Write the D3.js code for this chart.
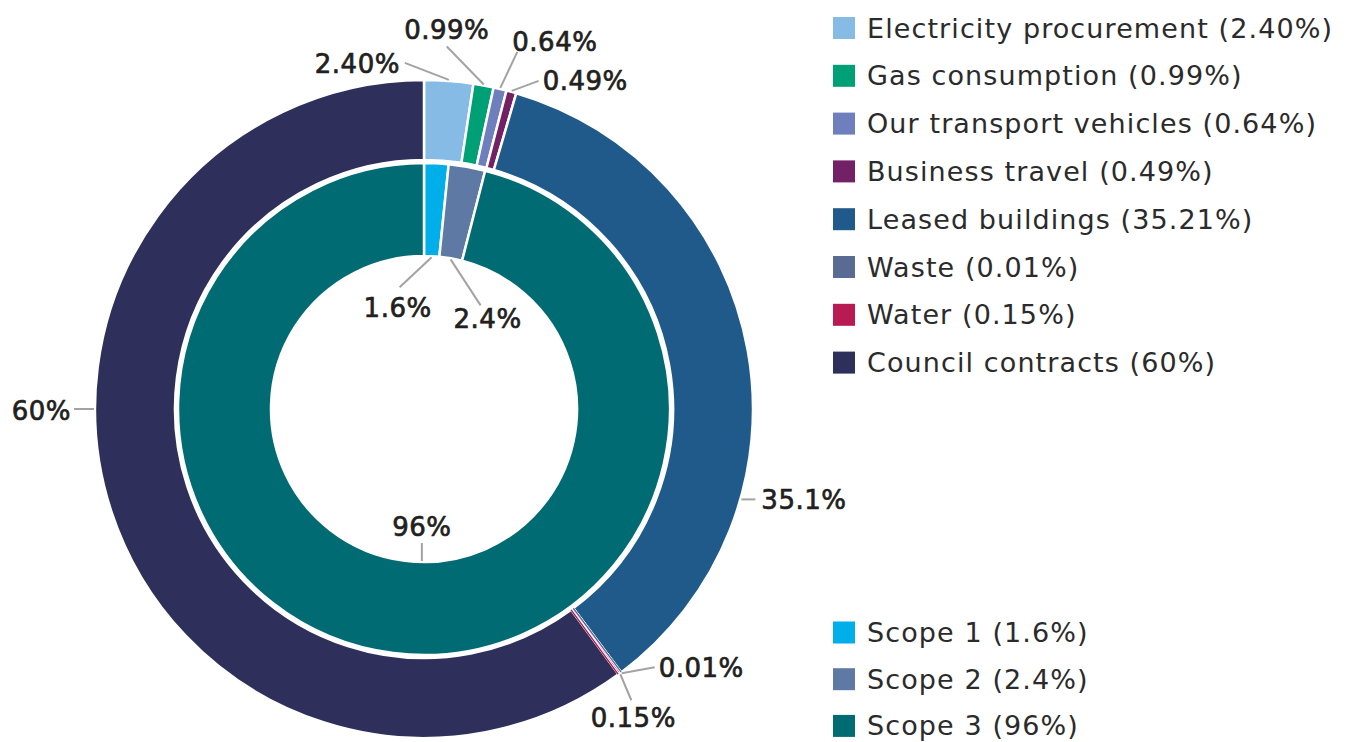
<!DOCTYPE html>
<html>
<head>
<meta charset="utf-8">
<script src="https://cdn.jsdelivr.net/npm/d3@7"></script>
<style>
  html, body { margin: 0; padding: 0; background: #fff; }
  #chart { width: 1352px; height: 742px; }
  text { font-family: "DejaVu Sans", sans-serif; }
</style>
</head>
<body>
<div id="chart"></div>
<script>
// outer ring: emission sources
const sources = ["Electricity procurement", "Gas consumption", "Our transport vehicles", "Business travel",
                 "Leased buildings", "Waste", "Water", "Council contracts"];
const sourceValues = [2.40, 0.99, 0.64, 0.49, 35.21, 0.01, 0.15, 60];
const sourceLegend = ["2.40%", "0.99%", "0.64%", "0.49%", "35.21%", "0.01%", "0.15%", "60%"];
const sourceLabels = ["2.40%", "0.99%", "0.64%", "0.49%", "35.1%", "0.01%", "0.15%", "60%"];
const sourceColors = ["#86bbe6", "#00a076", "#6f7ebd", "#722166", "#1f5a8a", "#5a6b93", "#b81a53", "#2f2f5b"];

// inner ring: scopes
const scopes = ["Scope 1", "Scope 2", "Scope 3"];
const scopeValues = [1.6, 2.4, 96];
const scopeLabels = ["1.6%", "2.4%", "96%"];
const scopeColors = ["#00aeea", "#5e7aa4", "#006b72"];

// leader lines: [angle override (deg) or null, line dx, line dy, text anchor, text dx, text dy]
const outerLeaders = [
  [null, -44, -17, "end", -5, 10], [null, -37, -38, "middle", 0, -7], [null, 17, -36, "start", -5, -1],
  [null, 27, -10, "start", 4, 9], [105.9, 14, 0, "start", 6, 10], [null, 33, -6, "start", 4, 10],
  [null, 11, 26, "middle", 2, 27], [270, -20, 0, "end", -3, 11]
];
const innerLeaders = [[null, -32, 30, "middle", -2, 30], [null, 30, 46, "middle", 7, 23], [180.8, 0, -18, "middle", 0, -7]];

const width = 1352, height = 742;
const cx = 424, cy = 409;
const rOuter = 329, rOuterIn = 249, rInner = 246, rInnerIn = 153;

const svg = d3.select("#chart").append("svg")
  .attr("width", width).attr("height", height);

const pie = d3.pie().sort(null).value(d => d);
const g = svg.append("g").attr("transform", `translate(${cx},${cy})`);

const outerArc = d3.arc().innerRadius(rOuterIn).outerRadius(rOuter);
const innerArc = d3.arc().innerRadius(rInnerIn).outerRadius(rInner);

const outerData = pie(sourceValues);
const innerData = pie(scopeValues);

g.selectAll(".outer").data(outerData).enter().append("path")
  .attr("d", outerArc)
  .attr("fill", (d, i) => sourceColors[i])
  .attr("stroke", "#fff").attr("stroke-width", 2.5);

// very thin slices would vanish under the white separators: draw them as hairlines
const tiny = outerData.map((d, i) => ({d, i})).filter(o => o.d.value < 0.2);
if (tiny.length) {
  const rMid = (rOuter + rOuterIn) / 2;
  const centre = (tiny[0].d.startAngle + tiny[tiny.length - 1].d.endAngle) / 2;
  const gap = 3.2 / rMid;
  tiny.forEach((o, k) => {
    const a = centre + (k - (tiny.length - 1) / 2) * gap;
    g.append("line")
      .attr("x1", rOuterIn * Math.sin(a)).attr("y1", -rOuterIn * Math.cos(a))
      .attr("x2", (rOuter - 0.5) * Math.sin(a)).attr("y2", -(rOuter - 0.5) * Math.cos(a))
      .attr("stroke", sourceColors[o.i]).attr("stroke-width", 1.4);
  });
}

g.selectAll(".inner").data(innerData).enter().append("path")
  .attr("d", innerArc)
  .attr("fill", (d, i) => scopeColors[i])
  .attr("stroke", "#fff").attr("stroke-width", 2.5);

function drawLeaders(data, labels, leaders, r) {
  data.forEach((d, i) => {
    const [ang, dx, dy, anchor, tdx, tdy] = leaders[i];
    const a = ang === null ? (d.startAngle + d.endAngle) / 2 : ang * Math.PI / 180;
    const x0 = r * Math.sin(a), y0 = -r * Math.cos(a);
    const x1 = x0 + dx, y1 = y0 + dy;
    g.append("line")
      .attr("x1", x0).attr("y1", y0).attr("x2", x1).attr("y2", y1)
      .attr("stroke", "#a3a3a3").attr("stroke-width", 2);
    g.append("text")
      .attr("x", x1 + tdx).attr("y", y1 + tdy)
      .attr("text-anchor", anchor)
      .attr("font-size", 26).attr("letter-spacing", 0.5)
      .attr("fill", "#231f20").attr("stroke", "#231f20").attr("stroke-width", 0.7)
      .text(labels[i]);
  });
}
drawLeaders(outerData, sourceLabels, outerLeaders, rOuter + 1);
drawLeaders(innerData, scopeLabels, innerLeaders, rInnerIn - 1);

// legends
function legend(names, values, colors, top, step) {
  const lg = svg.append("g").attr("transform", `translate(833,${top})`);
  const row = lg.selectAll("g").data(names).enter().append("g")
    .attr("transform", (d, i) => `translate(0,${i * step})`);
  row.append("rect").attr("width", 22).attr("height", 22)
    .attr("fill", (d, i) => colors[i]);
  row.append("text").attr("x", 34).attr("y", 20.5)
    .attr("font-size", 27).attr("letter-spacing", 1.1).attr("fill", "#2b2b2b")
    .text((d, i) => `${d} (${values[i]})`);
}
legend(sources, sourceLegend, sourceColors, 17, 47.8);
legend(scopes, scopeLabels, scopeColors, 621.5, 46.7);
</script>
</body>
</html>
